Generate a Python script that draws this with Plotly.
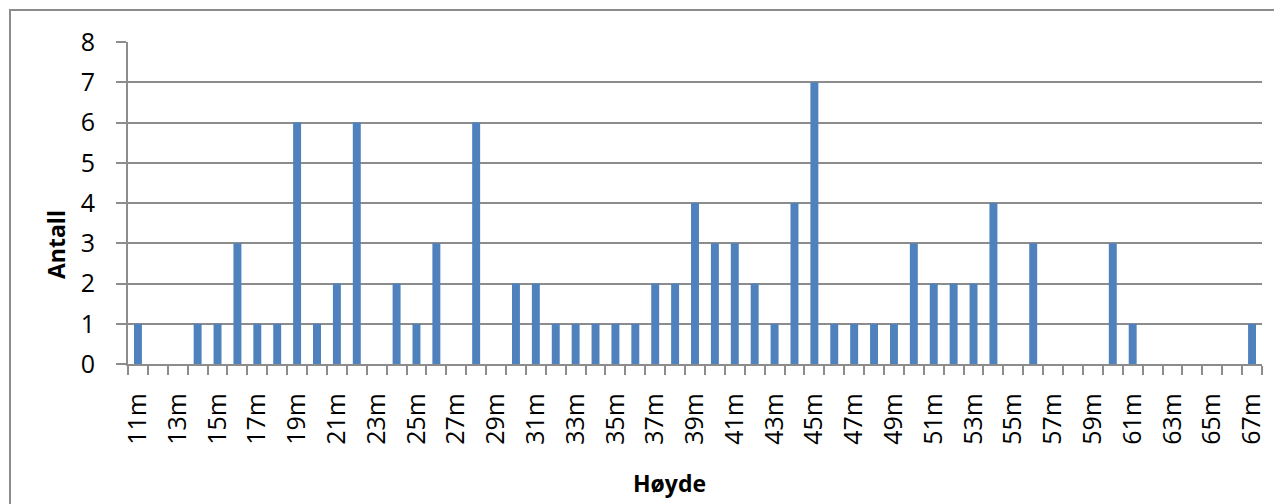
import plotly.graph_objects as go

categories = [f"{h}m" for h in range(11, 68)]
counts = [1, 0, 0, 1, 1, 3, 1, 1, 6, 1,
          2, 6, 0, 2, 1, 3, 0, 6, 0, 2,
          2, 1, 1, 1, 1, 1, 2, 2, 4, 3,
          3, 2, 1, 4, 7, 1, 1, 1, 1, 3,
          2, 2, 2, 4, 0, 3, 0, 0, 0, 3,
          1, 0, 0, 0, 0, 0, 1]
y_ticks = list(range(0, 9))
x_title = "Høyde"
y_title = "Antall"

heights = [int(c[:-1]) for c in categories]
label_vals = heights[::2]
label_text = categories[::2]
boundaries = [h - 0.5 for h in heights] + [heights[-1] + 0.5]

FONT = "Open Sans"
GRID = "#8c8c8c"
OFF = 8  # page body margin
W, H = 1282 - OFF, 504 - OFF
L, T = 128 - OFF, 42 - OFF
pw, ph = 1134, 322
R, B = W - L - pw, H - T - ph

def px(x):
    return (x - OFF - L) / pw

def py(y):
    return 1 - (y - OFF - T) / ph

fig = go.Figure(go.Bar(
    x=heights, y=counts, width=0.4,
    marker=dict(color="#4F81BD", line=dict(width=0)),
))

fig.update_layout(
    width=W, height=H,
    margin=dict(l=L, r=R, t=T, b=B, pad=0),
    paper_bgcolor="white", plot_bgcolor="white",
    showlegend=False,
    font=dict(family=FONT, size=25, color="black"),
    xaxis=dict(
        range=[boundaries[0], boundaries[-1]],
        tickmode="array", tickvals=label_vals, ticktext=label_text,
        tickangle=-90, ticks="", ticklabelstandoff=17,
        showgrid=False, zeroline=False,
        showline=True, linecolor=GRID, linewidth=2,
        tickfont=dict(family=FONT, size=25),
        minor=dict(tickmode="array", tickvals=boundaries, ticks="outside",
                   ticklen=9, tickwidth=2, tickcolor=GRID, showgrid=False),
    ),
    yaxis=dict(
        range=[0, 8], tickmode="array", tickvals=y_ticks,
        ticks="outside", ticklen=10, tickwidth=2, tickcolor=GRID,
        ticklabelstandoff=16,
        showgrid=True, gridcolor=GRID, gridwidth=2,
        zeroline=False, showline=True, linecolor=GRID, linewidth=2,
        tickfont=dict(family=FONT, size=25),
    ),
    annotations=[
        dict(text=f"<b>{x_title}</b>", xref="paper", yref="paper",
             x=px(669), y=py(483), showarrow=False,
             font=dict(family=FONT, size=23), xanchor="center", yanchor="middle"),
        dict(text=f"<b>{y_title}</b>", xref="paper", yref="paper",
             x=px(56), y=py(245), showarrow=False, textangle=-90,
             font=dict(family=FONT, size=23), xanchor="center", yanchor="middle"),
    ],
    shapes=[
        dict(type="rect", xref="paper", yref="paper",
             x0=px(10), y0=-2, x1=2, y1=py(10),
             line=dict(color=GRID, width=2), fillcolor="rgba(0,0,0,0)", layer="below"),
    ],
)

fig.write_html("out.html")
